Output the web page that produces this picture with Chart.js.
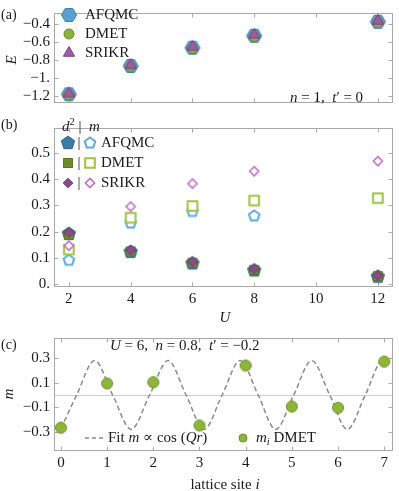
<!DOCTYPE html>
<html>
<head>
<meta charset="utf-8">
<script src="https://cdn.jsdelivr.net/npm/chart.js@4.4.1/dist/chart.umd.min.js"></script>
<style>
  body { margin: 0; background: #fff; width: 399px; height: 491px; position: relative; overflow: hidden; }
  .box { position: absolute; left: 0; width: 399px; }
</style>
</head>
<body>
<div class="box" style="top:0;height:116px"><canvas id="chartA"></canvas></div>
<div class="box" style="top:115px;height:210px"><canvas id="chartB"></canvas></div>
<div class="box" style="top:325px;height:166px"><canvas id="chartC"></canvas></div>
<script>
// (a) energy per site vs U
var uValues = [2, 4, 6, 8, 12];
var energyAfqmc = [-1.176, -0.864, -0.664, -0.532, -0.378];
var energyDmet = [-1.181, -0.870, -0.670, -0.540, -0.385];
var energySrikr = [-1.168, -0.855, -0.652, -0.520, -0.368];
var energyTicks = [-1.2, -1.0, -0.8, -0.6, -0.4];
var energyTickLabels = ['−1.2', '−1.', '−0.8', '−0.6', '−0.4'];

// (b) double occupancy d^2 (filled) and moment m (open)
var d2Afqmc = [0.191, 0.122, 0.078, 0.051, 0.027];
var d2Dmet = [0.188, 0.124, 0.080, 0.053, 0.029];
var d2Srikr = [0.196, 0.129, 0.084, 0.056, 0.031];
var uValuesMAfqmc = [2, 4, 6, 8];
var mAfqmc = [0.090, 0.233, 0.277, 0.260];
var mDmet = [0.131, 0.253, 0.298, 0.319, 0.328];
var mSrikr = [0.146, 0.296, 0.384, 0.431, 0.470];
var uTicks = [2, 4, 6, 8, 10, 12];
var orderTicks = [0, 0.1, 0.2, 0.3, 0.4, 0.5];
var orderTickLabels = ['0.', '0.1', '0.2', '0.3', '0.4', '0.5'];

// (c) local moment along the lattice, U=6 n=0.8 t'=-0.2
var sites = [0, 1, 2, 3, 4, 5, 6, 7];
var mSite = [-0.266, 0.094, 0.104, -0.248, 0.240, -0.094, -0.104, 0.272];
// dashed fit curve (extrema and crossings)
var fitX = [0, 0.34, 0.73, 1.12, 1.52, 1.92, 2.32, 2.71, 3.10, 3.49, 3.88, 4.27, 4.65, 5.04, 5.43, 5.82, 6.20, 6.59, 6.97, 7.0];
var fitY = [-0.275, 0, 0.28, 0, -0.28, 0, 0.28, 0, -0.28, 0, 0.28, 0, -0.28, 0, 0.28, 0, -0.28, 0, 0.28, 0.279];
var siteTicks = [0, 1, 2, 3, 4, 5, 6, 7];
var mTicks = [-0.3, -0.1, 0.1, 0.3];
var mTickLabels = ['−0.3', '−0.1', '0.1', '0.3'];

var FONT = '"Liberation Serif", "DejaVu Serif", serif';
var INK = '#1a1a1a';

function marker(shape, r, fill, stroke, lw) {
  var pad = Math.ceil(lw || 0) + 1;
  var s = 2 * Math.ceil(r + pad);
  var c = document.createElement('canvas');
  c.width = s; c.height = s;
  var g = c.getContext('2d');
  var cx = s / 2, cy = s / 2;
  g.beginPath();
  if (shape === 'circle') {
    g.arc(cx, cy, r, 0, 2 * Math.PI);
  } else if (shape === 'rect') {
    g.rect(cx - r, cy - r, 2 * r, 2 * r);
  } else {
    var n = { hexagon: 6, pentagon: 5, triangle: 3, diamond: 4 }[shape];
    var start = shape === 'hexagon' ? 0 : -Math.PI / 2;
    for (var k = 0; k < n; k++) {
      var a = start + k * 2 * Math.PI / n;
      var px = cx + r * Math.cos(a), py = cy + r * Math.sin(a);
      if (k === 0) g.moveTo(px, py); else g.lineTo(px, py);
    }
    g.closePath();
  }
  if (fill) { g.fillStyle = fill; g.fill(); }
  if (stroke) { g.strokeStyle = stroke; g.lineWidth = lw; g.stroke(); }
  return c;
}

var mk = {
  hexA: marker('hexagon', 7.5, '#5b9fd2', '#3d7fb8', 1),
  circA: marker('circle', 5, '#8cb03a', '#6a8c24', 1),
  triA: marker('triangle', 6.5, '#a05ca3', '#7e3f82', 1),
  pentF: marker('pentagon', 7, '#3e7aa8', '#2f6690', 1),
  rectF: marker('rect', 4.5, '#6e8c28', '#5a7620', 1),
  diaF: marker('diamond', 4.8, '#8c4a8c', '#733a73', 1),
  pentO: marker('pentagon', 5.5, '#ffffff', '#5aaae0', 2),
  rectO: marker('rect', 4.8, '#ffffff', '#9cc43e', 2),
  diaO: marker('diamond', 4.6, '#ffffff', '#c06cc0', 1.5),
  circC: marker('circle', 5.5, '#8db53a', '#6f9228', 1),
  circCleg: marker('circle', 4, '#8db53a', '#6f9228', 1)
};

function pts(xs, ys) {
  return xs.map(function (x, i) { return { x: x, y: ys[i] }; });
}

function set(label, xs, ys, style, order) {
  return { label: label, data: pts(xs, ys), pointStyle: style, pointRadius: 5, order: order, showLine: false };
}

function fixedTicks(values) {
  return function (scale) { scale.ticks = values.map(function (v) { return { value: v }; }); };
}

function labelFrom(values, labels) {
  return function (v) {
    for (var i = 0; i < values.length; i++) if (Math.abs(values[i] - v) < 1e-6) return labels[i];
    return '';
  };
}

// frame around the plot area with small inward ticks
function framePlugin(zeroLine) {
  return {
    id: 'frame',
    beforeDatasetsDraw: function (chart) {
      var a = chart.chartArea, ctx = chart.ctx;
      var L = Math.round(a.left) + 0.5, R = Math.round(a.right) - 0.5;
      var T = Math.round(a.top) + 0.5, B = Math.round(a.bottom) - 0.5;
      ctx.save();
      if (zeroLine) {
        var y0 = Math.round(chart.scales.y.getPixelForValue(0)) + 0.5;
        ctx.strokeStyle = '#cfcfcf'; ctx.lineWidth = 1;
        ctx.beginPath(); ctx.moveTo(L, y0); ctx.lineTo(R, y0); ctx.stroke();
      }
      ctx.strokeStyle = '#a8a8a8'; ctx.lineWidth = 1;
      ctx.strokeRect(L, T, R - L, B - T);
      ctx.beginPath();
      chart.scales.x.ticks.forEach(function (t) {
        var x = Math.round(chart.scales.x.getPixelForValue(t.value)) + 0.5;
        ctx.moveTo(x, B); ctx.lineTo(x, B - 4);
        ctx.moveTo(x, T); ctx.lineTo(x, T + 4);
      });
      chart.scales.y.ticks.forEach(function (t) {
        var y = Math.round(chart.scales.y.getPixelForValue(t.value)) + 0.5;
        ctx.moveTo(L, y); ctx.lineTo(L + 4, y);
        ctx.moveTo(R, y); ctx.lineTo(R - 4, y);
      });
      ctx.stroke();
      ctx.restore();
    }
  };
}

// mixed upright / italic text runs
function drawRuns(ctx, runs, x, y, size, align, rot) {
  var parts = runs.map(function (r) {
    var s = (r[1] && r[1].indexOf('s') >= 0) ? size * 0.7 : size;
    var f = ((r[1] && r[1].indexOf('i') >= 0) ? 'italic ' : '') + s + 'px ' + FONT;
    ctx.font = f;
    var dy = 0;
    if (r[1] && r[1].indexOf('^') >= 0) dy = -size * 0.35;
    if (r[1] && r[1].indexOf('_') >= 0) dy = size * 0.25;
    return { t: r[0], f: f, w: ctx.measureText(r[0]).width, dy: dy };
  });
  var total = parts.reduce(function (s, p) { return s + p.w; }, 0);
  ctx.save();
  ctx.translate(x, y);
  if (rot) ctx.rotate(rot);
  var cx = align === 'center' ? -total / 2 : 0;
  ctx.fillStyle = INK; ctx.textBaseline = 'middle'; ctx.textAlign = 'left';
  parts.forEach(function (p) { ctx.font = p.f; ctx.fillText(p.t, cx, p.dy); cx += p.w; });
  ctx.restore();
}

// notes are given in page coordinates, shifted by the canvas offset
function notesPlugin(offset, items) {
  return {
    id: 'notes',
    afterDraw: function (chart) {
      var ctx = chart.ctx;
      items.forEach(function (it) {
        if (it.img) {
          ctx.drawImage(it.img, it.x - it.img.width / 2, it.y - offset - it.img.height / 2);
        } else if (it.dash) {
          ctx.save();
          ctx.strokeStyle = '#8a8a8a'; ctx.lineWidth = 1.5; ctx.setLineDash([4, 3]);
          ctx.beginPath(); ctx.moveTo(it.x, it.y - offset); ctx.lineTo(it.x + it.dash, it.y - offset); ctx.stroke();
          ctx.restore();
        } else {
          drawRuns(ctx, it.runs, it.x, it.y - offset, it.size || 15, it.align, it.rot);
        }
      });
    }
  };
}

function yAxis(min, max, values, labels, width) {
  return {
    type: 'linear', min: min, max: max,
    afterBuildTicks: fixedTicks(values),
    afterFit: function (s) { s.width = width; },
    grid: { display: false, drawTicks: false },
    border: { display: false },
    ticks: { callback: labelFrom(values, labels), font: { family: FONT, size: 15 }, color: INK, padding: 4 }
  };
}

function xAxis(min, max, values, showLabels, height) {
  return {
    type: 'linear', min: min, max: max,
    afterBuildTicks: fixedTicks(values),
    afterFit: function (s) { s.height = height; },
    grid: { display: false, drawTicks: false },
    border: { display: false },
    ticks: { display: showLabels, autoSkip: false, maxRotation: 0, font: { family: FONT, size: 15 }, color: INK, padding: 3 }
  };
}

var common = {
  responsive: true, maintainAspectRatio: false, animation: false, events: [],
  plugins: { legend: { display: false }, tooltip: { enabled: false } }
};

function opts(layoutPad, scales) {
  var o = Object.assign({}, common);
  o.layout = { padding: layoutPad };
  o.scales = scales;
  return o;
}

// ---------- (a) ----------
new Chart(document.getElementById('chartA'), {
  type: 'scatter',
  data: {
    datasets: [
      set('AFQMC', uValues, energyAfqmc, mk.hexA, 3),
      set('DMET', uValues, energyDmet, mk.circA, 2),
      set('SRIKR', uValues, energySrikr, mk.triA, 1)
    ]
  },
  options: opts({ top: 1, bottom: 1, left: 0, right: 2 }, {
    x: xAxis(1.52, 12.49, uTicks, false, 0),
    y: yAxis(-1.272, -0.281, energyTicks, energyTickLabels, 54)
  }),
  plugins: [framePlugin(false), notesPlugin(0, [
    { runs: [['(a)']], x: 1, y: 15, size: 14 },
    { runs: [['E', 'i']], x: 12, y: 60, rot: -Math.PI / 2, align: 'center' },
    { img: mk.hexA, x: 69, y: 15 }, { runs: [['AFQMC']], x: 85, y: 15 },
    { img: mk.circA, x: 69, y: 34 }, { runs: [['DMET']], x: 85, y: 34 },
    { img: mk.triA, x: 69, y: 53 }, { runs: [['SRIKR']], x: 85, y: 53 },
    { runs: [['n', 'i'], [' = 1,  '], ['t', 'i'], ['′ = 0']], x: 290, y: 98 }
  ])]
});

// ---------- (b) ----------
new Chart(document.getElementById('chartB'), {
  type: 'scatter',
  data: {
    datasets: [
      set('AFQMC m', uValuesMAfqmc, mAfqmc, mk.pentO, 6),
      set('DMET m', uValues, mDmet, mk.rectO, 5),
      set('SRIKR m', uValues, mSrikr, mk.diaO, 4),
      set('AFQMC d2', uValues, d2Afqmc, mk.pentF, 3),
      set('DMET d2', uValues, d2Dmet, mk.rectF, 2),
      set('SRIKR d2', uValues, d2Srikr, mk.diaF, 1)
    ]
  },
  options: opts({ top: 1, bottom: 0, left: 0, right: 2 }, {
    x: xAxis(1.52, 12.49, uTicks, true, 38),
    y: yAxis(-0.0125, 0.597, orderTicks, orderTickLabels, 54)
  }),
  plugins: [framePlugin(false), notesPlugin(115, [
    { runs: [['(b)']], x: 1, y: 125, size: 14 },
    { runs: [['d', 'i'], ['2', 's^'], [' |  '], ['m', 'i']], x: 62, y: 127 },
    { img: mk.pentF, x: 68, y: 143 }, { runs: [['|']], x: 79, y: 143, align: 'center' },
    { img: mk.pentO, x: 90, y: 143 }, { runs: [['AFQMC']], x: 101, y: 143 },
    { img: mk.rectF, x: 68, y: 163 }, { runs: [['|']], x: 79, y: 163, align: 'center' },
    { img: mk.rectO, x: 90, y: 163 }, { runs: [['DMET']], x: 101, y: 163 },
    { img: mk.diaF, x: 68, y: 183 }, { runs: [['|']], x: 79, y: 183, align: 'center' },
    { img: mk.diaO, x: 90, y: 183 }, { runs: [['SRIKR']], x: 101, y: 183 },
    { runs: [['U', 'i']], x: 225, y: 318, align: 'center' }
  ])]
});

// ---------- (c) ----------
new Chart(document.getElementById('chartC'), {
  type: 'scatter',
  data: {
    datasets: [
      {
        label: 'Fit', data: pts(fitX, fitY), showLine: true, pointRadius: 0,
        borderColor: '#8a8a8a', borderWidth: 1.5, borderDash: [5, 3],
        cubicInterpolationMode: 'monotone', order: 2
      },
      set('m_i DMET', sites, mSite, mk.circC, 1)
    ]
  },
  options: opts({ top: 11, bottom: 0, left: 0, right: 2 }, {
    x: xAxis(-0.15, 7.19, siteTicks, true, 40),
    y: yAxis(-0.456, 0.464, mTicks, mTickLabels, 54)
  }),
  plugins: [framePlugin(true), notesPlugin(325, [
    { runs: [['(c)']], x: 1, y: 345, size: 14 },
    { runs: [['m', 'i']], x: 9, y: 394, rot: -Math.PI / 2, align: 'center' },
    { runs: [['U', 'i'], [' = 6,  '], ['n', 'i'], [' = 0.8,  '], ['t', 'i'], ['′ = −0.2']], x: 110, y: 346 },
    { dash: 18, x: 85, y: 438 },
    { runs: [['Fit '], ['m', 'i'], [' ∝ cos ('], ['Qr', 'i'], [')']], x: 108, y: 438 },
    { img: mk.circCleg, x: 243, y: 438 },
    { runs: [['m', 'i'], ['i', 'si_'], [' DMET']], x: 256, y: 438 },
    { runs: [['lattice site '], ['i', 'i']], x: 225, y: 485, align: 'center' }
  ])]
});
</script>
</body>
</html>
